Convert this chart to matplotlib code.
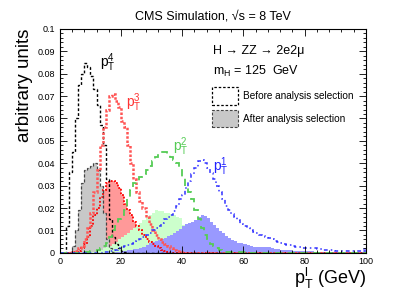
import numpy as np
import matplotlib
matplotlib.use("Agg")
import matplotlib.pyplot as plt
from matplotlib.patches import Patch
from matplotlib.ticker import MultipleLocator, FuncFormatter

plt.rcParams['font.family'] = ['Liberation Sans', 'DejaVu Sans']
plt.rcParams['mathtext.default'] = 'regular'
plt.rcParams['mathtext.fontset'] = 'custom'
plt.rcParams['mathtext.rm'] = 'Liberation Sans'

# 1 GeV bins from 0 to 100, each series given from its first non-empty bin
edges = np.arange(0, 101, 1)

pt4_before_start = 2
pt4_before = [0.012, 0.036, 0.045, 0.060, 0.075, 0.080, 0.085, 0.083, 0.079, 0.073,
              0.066, 0.057, 0.048, 0.033, 0.015, 0.007, 0.004, 0.002, 0.001, 0.0005]
pt4_after_start = 3
pt4_after = [0.0005, 0.003, 0.010, 0.019, 0.031, 0.037, 0.038, 0.039, 0.040, 0.037,
             0.030, 0.018, 0.006, 0.002, 0.0005]

pt3_before_start = 4
pt3_before = [0.0005, 0.001, 0.002, 0.003, 0.006, 0.011, 0.018, 0.027, 0.037, 0.048,
              0.056, 0.064, 0.070, 0.071, 0.068, 0.065, 0.059, 0.056, 0.048, 0.040,
              0.033, 0.027, 0.023, 0.020, 0.016, 0.013, 0.010, 0.008, 0.006, 0.005,
              0.004, 0.003, 0.002, 0.0015, 0.001, 0.0005, 0.0005]
pt3_after_start = 5
pt3_after = [0.0005, 0.001, 0.002, 0.004, 0.007, 0.012, 0.017, 0.020, 0.025, 0.028,
             0.031, 0.032, 0.032, 0.031, 0.029, 0.026, 0.022, 0.019, 0.017, 0.014,
             0.012, 0.010, 0.008, 0.006, 0.005, 0.004, 0.003, 0.002, 0.0015, 0.001,
             0.0005]

pt2_before_start = 8
pt2_before = [0.0003, 0.0005, 0.001, 0.001, 0.0015, 0.002, 0.003, 0.0045, 0.007, 0.010,
              0.012, 0.015, 0.017, 0.019, 0.024, 0.028, 0.031, 0.032, 0.034, 0.035,
              0.037, 0.039, 0.041, 0.043, 0.0445, 0.045, 0.0452, 0.044, 0.043, 0.0415,
              0.040, 0.038, 0.034, 0.030, 0.027, 0.024, 0.019, 0.015, 0.011, 0.008,
              0.006, 0.004, 0.003, 0.002, 0.0015, 0.001, 0.0005, 0.0005, 0.0005, 0.0005,
              0.0005, 0.0005, 0.0005]
pt2_after_start = 10
pt2_after = [0.0003, 0.0005, 0.001, 0.0015, 0.002, 0.0025, 0.003, 0.004, 0.005, 0.006,
             0.007, 0.008, 0.009, 0.010, 0.011, 0.0125, 0.0135, 0.0145, 0.016, 0.017,
             0.018, 0.019, 0.0185, 0.0185, 0.018, 0.018, 0.0175, 0.017, 0.016, 0.0155,
             0.0125, 0.011, 0.011, 0.010, 0.008, 0.006, 0.005, 0.004, 0.003, 0.0025,
             0.002, 0.0015, 0.001, 0.001, 0.0005, 0.0005, 0.0005, 0.0005, 0.0005]

pt1_before_start = 14
pt1_before = [0.0003, 0.0005, 0.0007, 0.001, 0.0015, 0.002, 0.0025, 0.003, 0.0035, 0.004,
              0.0045, 0.0055, 0.006, 0.007, 0.008, 0.009, 0.010, 0.011, 0.012, 0.0135,
              0.015, 0.016, 0.017, 0.0185, 0.021, 0.024, 0.026, 0.029, 0.032, 0.035,
              0.038, 0.041, 0.0415, 0.040, 0.038, 0.0356, 0.033, 0.030, 0.027, 0.024,
              0.021, 0.019, 0.0175, 0.016, 0.0145, 0.013, 0.012, 0.011, 0.010, 0.0095,
              0.009, 0.008, 0.0075, 0.007, 0.0065, 0.006, 0.0055, 0.005, 0.0045, 0.004,
              0.0036, 0.0033, 0.003, 0.0027, 0.0025, 0.0023, 0.002, 0.0022, 0.002, 0.002,
              0.0018, 0.0016, 0.0014, 0.0013, 0.0012, 0.0011, 0.001, 0.001, 0.0008, 0.0008,
              0.0008, 0.0008, 0.0007, 0.0007, 0.0007, 0.0008]
pt1_after_start = 18
pt1_after = [0.0003, 0.0005, 0.0007, 0.001, 0.0012, 0.0014, 0.0016, 0.0018, 0.002, 0.0027,
             0.0035, 0.0042, 0.0048, 0.0052, 0.0056, 0.006, 0.0068, 0.0075, 0.0082, 0.009,
             0.0098, 0.0105, 0.0118, 0.0128, 0.0135, 0.014, 0.0148, 0.0158, 0.017, 0.0165,
             0.0155, 0.014, 0.0125, 0.011, 0.0098, 0.0088, 0.0077, 0.0068, 0.0058, 0.0052,
             0.0046, 0.0043, 0.004, 0.0035, 0.003, 0.0028, 0.0026, 0.0025, 0.0024, 0.0026,
             0.0025, 0.002, 0.0018, 0.0016, 0.0014, 0.0013, 0.0012, 0.0011, 0.001, 0.0009,
             0.0009, 0.0008, 0.0008, 0.0007, 0.0007, 0.0006, 0.0006, 0.0006, 0.0005, 0.0005,
             0.0005, 0.0005, 0.0005, 0.0005, 0.0005, 0.0005, 0.0005, 0.0005, 0.0005, 0.0005,
             0.0005, 0.002]


def full(start, vals):
    arr = np.zeros(len(edges) - 1)
    arr[start:start + len(vals)] = vals
    return arr


fig = plt.figure(figsize=(4.07, 2.92), dpi=100)
ax = fig.add_axes([0.147, 0.134, 0.752, 0.767])

# filled "after selection" histograms
ax.stairs(full(pt3_after_start, pt3_after), edges, fill=True, color='#ff9999', lw=0)
ax.stairs(full(pt4_after_start, pt4_after), edges, fill=True, color='#c8c8c8', lw=0)
ax.stairs(full(pt2_after_start, pt2_after), edges, fill=True, color='#ccffcc', lw=0)
ax.stairs(full(pt1_after_start, pt1_after), edges, fill=True, color='#9999ff', lw=0)

ax.stairs(full(pt3_after_start, pt3_after), edges, color='#ff0000', lw=1.3,
          linestyle=(0, (1, 1)), baseline=0)
ax.stairs(full(pt4_after_start, pt4_after), edges, color='#444444', lw=0.9,
          linestyle=(0, (2.5, 1.5)), baseline=0)

# "before selection" outlines
ax.stairs(full(pt4_before_start, pt4_before), edges, color='black', lw=1.0,
          linestyle=(0, (2, 1.5)), baseline=0)
ax.stairs(full(pt3_before_start, pt3_before), edges, color='#ff5555', lw=1.8,
          linestyle=(0, (1, 0.7)), baseline=0)
ax.stairs(full(pt2_before_start, pt2_before), edges, color='#55cc55', lw=1.3,
          linestyle=(0, (4, 3)), baseline=0)
ax.stairs(full(pt1_before_start, pt1_before), edges, color='#3333ff', lw=1.1,
          linestyle=(0, (2.5, 2, 1, 2)), baseline=0)

ax.set_xlim(0, 100)
ax.set_ylim(0, 0.1)
ax.xaxis.set_major_locator(MultipleLocator(20))
ax.xaxis.set_minor_locator(MultipleLocator(4))
ax.yaxis.set_major_locator(MultipleLocator(0.01))
ax.yaxis.set_minor_locator(MultipleLocator(0.002))
ax.yaxis.set_major_formatter(FuncFormatter(lambda v, p: '%g' % round(v, 3)))
ax.tick_params(which='both', direction='in', top=True, right=True, labelsize=6.5,
               width=0.6)
ax.tick_params(which='major', length=5)
ax.tick_params(which='minor', length=2.5)
ax.tick_params(axis='x', pad=3)
for s in ax.spines.values():
    s.set_linewidth(0.8)

ax.set_ylabel('arbitrary units', fontsize=13.5, loc='top', labelpad=3)
ax.set_xlabel(r'$p_T^l$ (GeV)', fontsize=13, loc='right', labelpad=0)

fig.text(0.523, 0.945, 'CMS Simulation, \u221as = 8 TeV', fontsize=9,
         ha='center', va='center')
ax.text(0.5, 0.902, 'H \u2192 ZZ \u2192 2e2\u03bc', transform=ax.transAxes,
        fontsize=9, va='center')
ax.text(0.5, 0.808, r'$m_H$ = 125  GeV', transform=ax.transAxes,
        fontsize=9, va='center')

ax.text(13.1, 0.0848, r'$p_T^4$', color='black', fontsize=10, va='center')
ax.text(21.6, 0.067, r'$p_T^3$', color='#ff3333', fontsize=10, va='center')
ax.text(37.0, 0.0473, r'$p_T^2$', color='#55cc55', fontsize=10, va='center')
ax.text(50.0, 0.0384, r'$p_T^1$', color='#2222ff', fontsize=10, va='center')

handles = [Patch(facecolor='white', edgecolor='black', linestyle=(0, (2, 1.5)), lw=0.9),
           Patch(facecolor='#c8c8c8', edgecolor='#444444', linestyle=(0, (2.5, 1.5)), lw=0.8)]
ax.legend(handles, ['Before analysis selection', 'After analysis selection'],
          loc='upper left', bbox_to_anchor=(0.497, 0.74), frameon=False, fontsize=7.2,
          handlelength=2.6, handleheight=2.3, labelspacing=0.55, handletextpad=0.5,
          borderpad=0, borderaxespad=0)

fig.savefig('out.png', dpi=100)
